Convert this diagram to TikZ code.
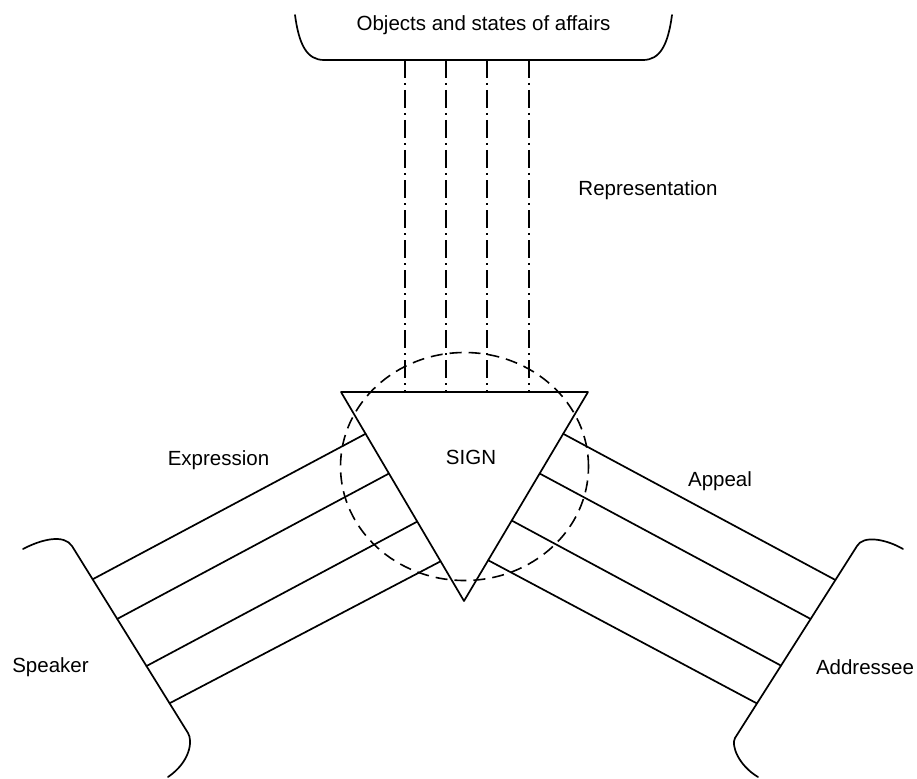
\documentclass[tikz,border=0pt]{standalone}
\usepackage{fontspec}
\setmainfont{Liberation Sans}
\usetikzlibrary{calc}
\begin{document}
\begin{tikzpicture}[x=1pt,y=-1pt,
  stroke/.style={line width=1.7pt, line join=round, line cap=round},
  ring/.style={line width=1.6pt, dash pattern=on 12pt off 7pt},
  ray/.style={line width=1.5pt, dash pattern=on 18pt off 5pt on 2pt off 5pt},
  lbl/.style={font=\fontsize{20.5}{24}\selectfont, inner sep=0pt,
              text height=14.7pt, text depth=0pt}]
\useasboundingbox (0,0) rectangle (917,778);

% the sign
\coordinate (A) at (341,392);
\coordinate (B) at (588,392);
\coordinate (C) at (464,601);
\draw[stroke] (A) -- (B) -- (C) -- cycle;
\node[lbl] (sign) at (471,457.5) {SIGN};
\draw[ring] (464.5,466.5) ellipse [x radius=124pt, y radius=114pt];

% objects and states of affairs
\coordinate (T1) at (324,60);
\coordinate (T2) at (643,60);
\draw[stroke] (295,15) .. controls (299,45) and (307,60) .. (T1) -- (T2)
  .. controls (660,60) and (668,45) .. (672,15);
\node[lbl] (objects) at (483.5,23) {Objects and states of affairs};

% representation rays
\foreach \t [count=\i] in {0.259,0.425,0.591,0.761} {
  \coordinate (r\i) at ($(A)!\t!(B)$);
  \draw[ray] (r\i |- T1) -- (r\i);
}
\node[lbl] (repr) at (648,188) {Representation};

% speaker and expression
\coordinate (S1) at (72,546);
\coordinate (S2) at (188,733);
\draw[stroke] (23,549) .. controls (42,539) and (64,534) .. (S1) -- (S2)
  .. controls (193,741) and (190,762) .. (168,777);
\foreach \t/\s [count=\i] in {0.2/0.178, 0.39/0.39, 0.62/0.642, 0.81/0.841} {
  \coordinate (e\i) at ($(A)!\t!(C)$);
  \coordinate (s\i) at ($(S1)!\s!(S2)$);
  \draw[stroke] (e\i) -- (s\i);
}
\node[lbl] (speaker) at (50.5,665.5) {Speaker};
\node[lbl] (expr) at (218.5,458) {Expression};

% addressee and appeal
\coordinate (D1) at (857,546);
\coordinate (D2) at (735,738);
\draw[stroke] (903,549) .. controls (886,539) and (863,535) .. (D1) -- (D2)
  .. controls (731,745) and (738,765) .. (758,777);
\foreach \t/\s [count=\i] in {0.2/0.177, 0.39/0.38, 0.615/0.623, 0.805/0.82} {
  \coordinate (a\i) at ($(B)!\t!(C)$);
  \coordinate (d\i) at ($(D1)!\s!(D2)$);
  \draw[stroke] (a\i) -- (d\i);
}
\node[lbl] (addr) at (865,667) {Addressee};
\node[lbl] (appeal) at (720,479) {Appeal};
\end{tikzpicture}
\end{document}
